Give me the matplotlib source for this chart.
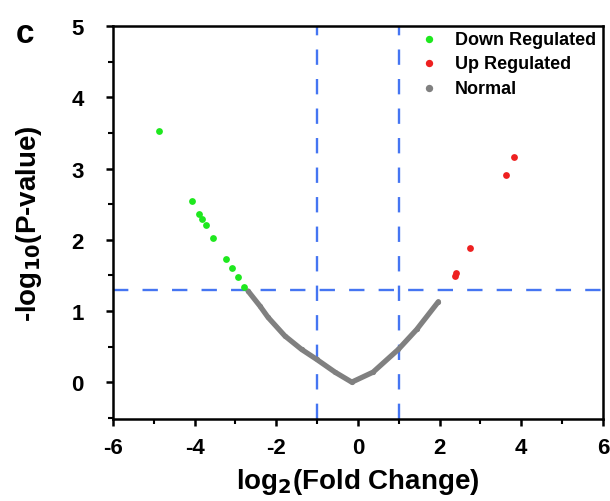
import matplotlib
matplotlib.use('Agg')
import matplotlib.pyplot as plt
from matplotlib.ticker import MultipleLocator

plt.rcParams['font.family'] = ['Liberation Sans', 'DejaVu Sans']
plt.rcParams['font.weight'] = 'bold'
plt.rcParams['axes.unicode_minus'] = False

down_x = [-4.88, -4.05, -3.88, -3.81, -3.73, -3.55, -3.23, -3.08, -2.94, -2.78]
down_y = [3.52, 2.54, 2.36, 2.29, 2.21, 2.03, 1.73, 1.60, 1.48, 1.34]
up_x = [2.38, 2.41, 2.75, 3.62, 3.81]
up_y = [1.49, 1.53, 1.89, 2.91, 3.16]
normal_x = [-2.69, -2.40, -2.20, -1.79, -1.38, -1.01, -0.56, -0.15, 0.37, 0.99, 1.44, 1.97]
normal_y = [1.28, 1.07, 0.91, 0.65, 0.46, 0.32, 0.14, 0.00, 0.14, 0.46, 0.74, 1.13]
fc_cut = 1.0
p_cut = 1.301

green = '#1ee81e'
red = '#ee2020'
gray = '#808080'
blue = '#4575f2'

fig = plt.figure(figsize=(6.1, 5.02), dpi=100)
ax = fig.add_axes([0.185, 0.163, 0.8035, 0.783])

ax.axhline(p_cut, color=blue, lw=1.7, dashes=(6.5, 6), zorder=1)
ax.axvline(-fc_cut, color=blue, lw=1.7, dashes=(6.5, 6), zorder=1)
ax.axvline(fc_cut, color=blue, lw=1.7, dashes=(6.5, 6), zorder=1)

ax.plot(normal_x, normal_y, color=gray, lw=3.8, solid_capstyle='round', zorder=2)
ax.scatter(down_x, down_y, s=24, color=green, lw=0, zorder=3, label='Down Regulated')
ax.scatter(up_x, up_y, s=24, color=red, lw=0, zorder=3, label='Up Regulated')
ax.scatter(normal_x, normal_y, s=14, color=gray, lw=0, zorder=2, label='Normal')

ax.set_xlim(-6, 6)
ax.set_ylim(-0.52, 5)
ax.xaxis.set_major_locator(MultipleLocator(2))
ax.xaxis.set_minor_locator(MultipleLocator(1))
ax.yaxis.set_major_locator(MultipleLocator(1))
ax.yaxis.set_minor_locator(MultipleLocator(0.5))
ax.tick_params(which='major', direction='out', length=5, width=1.8, labelsize=16)
ax.tick_params(axis='x', which='major', pad=8)
ax.tick_params(axis='y', which='major', pad=16)
ax.tick_params(which='minor', direction='out', length=3.5, width=1.5)
for s in ax.spines.values():
    s.set_linewidth(1.8)

ax.set_xlabel('log$_\\mathbf{2}$(Fold Change)', fontsize=20, fontweight='bold')
ax.set_ylabel('-log$_\\mathbf{10}$(P-value)', fontsize=20, fontweight='bold')
ax.xaxis.set_label_coords(0.5, -0.12, transform=ax.transAxes)
ax.xaxis.label.set_va('top')
ax.yaxis.set_label_coords(-0.14, 0.5)

leg = ax.legend(loc='upper left', bbox_to_anchor=(0.575, 1.03), frameon=False, fontsize=13,
                handletextpad=0.45, labelspacing=0.42, scatterpoints=1)
for h in leg.legend_handles:
    h.set_sizes([28])

fig.text(0.026, 0.914, 'c', fontsize=24, fontweight='bold', va='baseline')

fig.savefig('out.png', dpi=100)
